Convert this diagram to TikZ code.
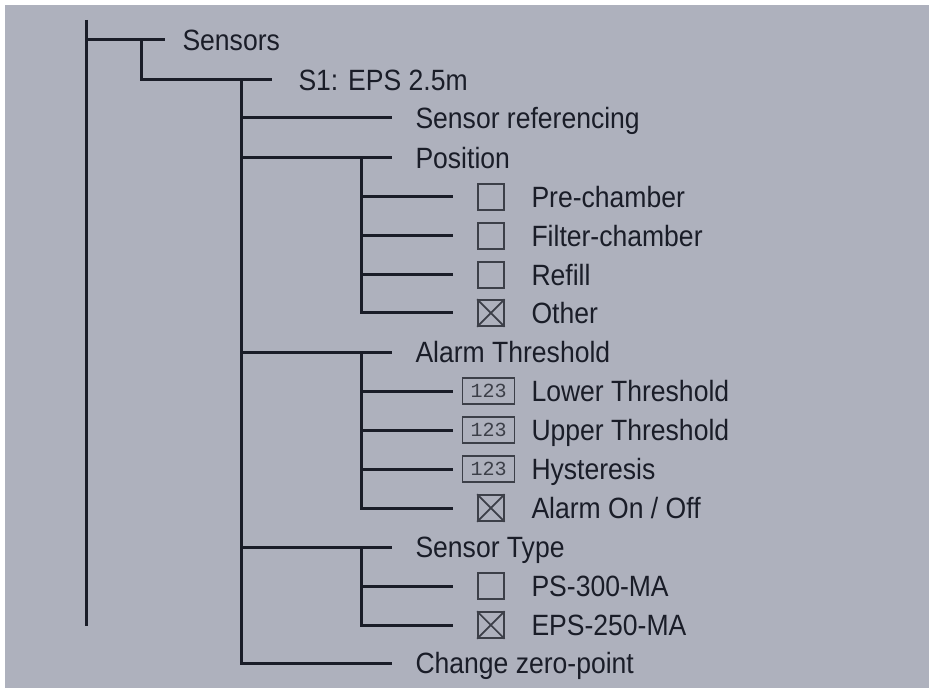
\documentclass[tikz,border=0pt]{standalone}
\usepackage{fontspec}
\newfontfamily\menufont{Liberation Sans}[FakeStretch=0.905]
\newfontfamily\numfont{Liberation Mono}
\usepackage{tikz}
\usetikzlibrary{positioning, calc}
\definecolor{panel}{HTML}{AEB1BD}
\definecolor{ink}{HTML}{1A1D28}

\begin{document}
\begin{tikzpicture}[x=0.75pt, y=-0.75pt, line width=2.25pt, draw=ink,
    item/.style={font=\menufont\fontsize{22}{24}\selectfont, text=ink, inner sep=0pt,
        anchor=west, text height=15.75pt, text depth=0pt},
    chk/.style={draw=ink!85, line width=1.2pt, minimum size=19.5pt, inner sep=0pt},
    numbox/.style={draw=ink!85, line width=1.1pt, minimum width=39pt, minimum height=19.5pt,
        inner sep=0pt, font=\numfont\fontsize{15}{15}\selectfont, text=ink!85}]

    \useasboundingbox (0,0) rectangle (929,688);
    \fill[panel] (5,5) rectangle (929,688);

    % menu entries
    \node[item] (sensors) at (181,40) {Sensors};
    \node[item] (s1) at (297,80) {S1: EPS 2.5m};
    \node[item] (ref) at (414,118) {Sensor referencing};
    \node[item] (pos) at (414,158) {Position};
    \node[item] (pre) at (530,197) {Pre-chamber};
    \node[item] (filt) at (530,236) {Filter-chamber};
    \node[item] (refill) at (530,275) {Refill};
    \node[item] (other) at (530,313) {Other};
    \node[item] (alarm) at (414,352) {Alarm Threshold};
    \node[item] (lower) at (530,391) {Lower Threshold};
    \node[item] (upper) at (530,430) {Upper Threshold};
    \node[item] (hyst) at (530,469) {Hysteresis};
    \node[item] (onoff) at (530,508) {Alarm On / Off};
    \node[item] (stype) at (414,547) {Sensor Type};
    \node[item] (ps) at (530,586) {PS-300-MA};
    \node[item] (eps) at (530,625) {EPS-250-MA};
    \node[item] (zero) at (414,663) {Change zero-point};

    % check boxes and number fields
    \foreach \n in {pre,filt,refill,other,onoff,ps,eps}
        \node[chk, left=19pt of \n] (\n box) {};
    \foreach \n in {other,onoff,eps}
        \draw[line width=1.2pt, ink!85] (\n box.north west) -- (\n box.south east)
            (\n box.south west) -- (\n box.north east);
    \foreach \n in {lower,upper,hyst}
        \node[numbox, left=11pt of \n] (\n box) {123};

    % tree lines
    \coordinate (r0) at (86,20);
    \coordinate (r1) at (86,626);
    \draw (r0) -- (r1);
    \draw (r0 |- sensors.west) -- ($(sensors.west)+(-16,0)$);
    \coordinate (v1) at (141,40);
    \draw (v1) |- ($(s1.west)+(-25,0)$);
    \coordinate (v2) at (241,80);
    \draw (v2) |- ($(zero.west)+(-22,0)$);
    \foreach \n in {ref,pos,alarm,stype}
        \draw (v2 |- \n.west) -- ($(\n.west)+(-22,0)$);
    \coordinate (v3) at (361,0);
    \draw (v3 |- pos.west) |- ($(other.west)+(-77,0)$);
    \draw (v3 |- alarm.west) |- ($(onoff.west)+(-77,0)$);
    \draw (v3 |- stype.west) |- ($(eps.west)+(-77,0)$);
    \foreach \n in {pre,filt,refill,lower,upper,hyst,ps}
        \draw (v3 |- \n.west) -- ($(\n.west)+(-77,0)$);
\end{tikzpicture}
\end{document}
